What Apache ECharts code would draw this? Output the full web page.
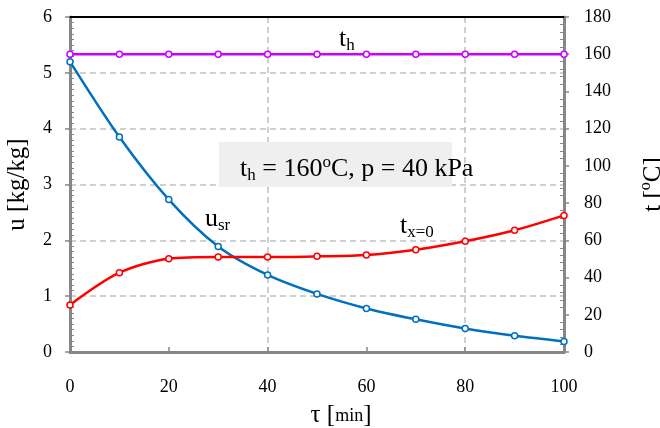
<!DOCTYPE html>
<html>
<head>
<meta charset="utf-8">
<script src="https://cdn.jsdelivr.net/npm/echarts@6/dist/echarts.min.js"></script>
<style>
html,body{margin:0;padding:0;background:#fff;}
#c{width:660px;height:428px;}
</style>
</head>
<body>
<div id="c"></div>
<script>
const tau = [0, 10, 20, 30, 40, 50, 60, 70, 80, 90, 100];
const uSr = [5.20, 3.85, 2.73, 1.89, 1.38, 1.04, 0.78, 0.585, 0.42, 0.29, 0.19];
const tX0 = [25.3, 42.6, 50.1, 51.0, 51.0, 51.4, 52.1, 55.0, 59.5, 65.4, 73.4];
const tH = [160, 160, 160, 160, 160, 160, 160, 160, 160, 160, 160];
const xRange = [0, 100, 20];
const uRange = [0, 6, 1];
const tRange = [0, 180, 20];

const FF = '"Liberation Serif", "Times New Roman", serif';
const GRAY = '#868686';
const GRID = '#c0c0c0';
const richTxt = {
  m: { fontSize: 26, fontFamily: FF, color: '#000', lineHeight: 30 },
  sub: { fontSize: 17, fontFamily: FF, color: '#000', lineHeight: 8, verticalAlign: 'bottom' },
  sup: { fontSize: 17, fontFamily: FF, color: '#000', lineHeight: 14, verticalAlign: 'top' }
};
function label(text, x, y) {
  return {
    type: 'text', x: x, y: y, z: 20,
    style: { text: text, rich: richTxt, fill: '#000', font: '26px ' + FF,
             align: 'left', verticalAlign: 'top', textAlign: 'left', textVerticalAlign: 'top' }
  };
}
const pairs = (ys) => tau.map((x, i) => [x, ys[i]]);

const chart = echarts.init(document.getElementById('c'), null, { renderer: 'canvas' });
const tickLbl = { color: '#000', fontSize: 18, fontFamily: FF };
const dashed = { show: true, lineStyle: { color: GRID, width: 1.5, type: [6, 4] } };

chart.setOption({
  animation: false,
  backgroundColor: '#fff',
  grid: { left: 70, right: 96, top: 17, bottom: 76, containLabel: false, outerBoundsMode: 'none' },
  xAxis: [
    {
      type: 'value', min: xRange[0], max: xRange[1], interval: xRange[2], position: 'bottom',
      axisLine: { show: true, onZero: false, lineStyle: { color: GRAY, width: 3 } },
      axisTick: { show: true, inside: true, length: 5, lineStyle: { color: GRAY, width: 1.5 } },
      axisLabel: Object.assign({ margin: 26 }, tickLbl),
      splitLine: { show: false },
      name: 'τ [{s|min}]', nameLocation: 'middle', nameGap: 42,
      nameTextStyle: { fontSize: 25, fontFamily: FF, color: '#000', lineHeight: 30, padding: [0, 0, 0, 48],
        rich: { s: { fontSize: 18, fontFamily: FF, color: '#000' } } }
    },
    {
      type: 'value', min: xRange[0], max: xRange[1], interval: 40, position: 'top',
      axisLine: { show: true, onZero: false, lineStyle: { color: '#000', width: 2 } },
      axisTick: { show: false }, axisLabel: { show: false },
      splitLine: dashed
    }
  ],
  yAxis: [
    {
      type: 'value', min: uRange[0], max: uRange[1], interval: uRange[2], position: 'left',
      axisLine: { show: true, onZero: false, lineStyle: { color: GRAY, width: 3 } },
      axisTick: { show: true, inside: false, length: 5, lineStyle: { color: GRAY, width: 1.5 } },
      axisLabel: Object.assign({ margin: 18 }, tickLbl),
      splitLine: dashed,
      name: 'u [kg/kg]', nameLocation: 'middle', nameGap: 38, nameRotate: 90,
      nameTextStyle: { fontSize: 25, fontFamily: FF, color: '#000', lineHeight: 30 }
    },
    {
      type: 'value', min: tRange[0], max: tRange[1], interval: tRange[2], position: 'right',
      axisLine: { show: true, onZero: false, lineStyle: { color: GRAY, width: 3 } },
      axisTick: { show: true, inside: false, length: 5, lineStyle: { color: GRAY, width: 1.5 } },
      axisLabel: Object.assign({ margin: 20 }, tickLbl),
      splitLine: { show: false },
      name: 't [{sup|o}C]', nameLocation: 'middle', nameGap: 74, nameRotate: 90,
      nameTextStyle: { fontSize: 25, fontFamily: FF, color: '#000', lineHeight: 30,
        rich: { sup: { fontSize: 16, fontFamily: FF, color: '#000', lineHeight: 12, verticalAlign: 'top' } } }
    },
    {
      type: 'value', min: uRange[0], max: uRange[1], interval: uRange[2], position: 'left',
      axisLine: { show: false, onZero: false }, axisLabel: { show: false }, splitLine: { show: false },
      axisTick: { show: false, inside: true },
      minorTick: { show: true, splitNumber: 10, length: 4, lineStyle: { color: GRAY, width: 1 } }
    },
    {
      type: 'value', min: tRange[0], max: tRange[1], interval: tRange[2], position: 'right',
      axisLine: { show: false, onZero: false }, axisLabel: { show: false }, splitLine: { show: false },
      axisTick: { show: false, inside: true },
      minorTick: { show: true, splitNumber: 5, length: 4, lineStyle: { color: GRAY, width: 1 } }
    }
  ],
  series: [
    {
      name: 'u_sr', type: 'line', xAxisIndex: 0, yAxisIndex: 0, data: pairs(uSr), smooth: 0.3,
      symbol: 'circle', symbolSize: 6, z: 10,
      lineStyle: { color: '#0070C0', width: 2.5 },
      itemStyle: { color: '#fff', borderColor: '#0070C0', borderWidth: 1.5 }
    },
    {
      name: 't_x=0', type: 'line', xAxisIndex: 0, yAxisIndex: 1, data: pairs(tX0), smooth: 0.3,
      symbol: 'circle', symbolSize: 6, z: 10,
      lineStyle: { color: '#FF0000', width: 2.5 },
      itemStyle: { color: '#fff', borderColor: '#FF0000', borderWidth: 1.5 }
    },
    {
      name: 't_h', type: 'line', xAxisIndex: 0, yAxisIndex: 1, data: pairs(tH),
      symbol: 'circle', symbolSize: 6, z: 10,
      lineStyle: { color: '#CC00FF', width: 2.5 },
      itemStyle: { color: '#fff', borderColor: '#CC00FF', borderWidth: 1.5 }
    }
  ],
  graphic: [
    { type: 'rect', z: 15, shape: { x: 219, y: 142, width: 233, height: 45 }, style: { fill: '#efefef' } },
    label('{m|t}{sub|h}{m| = 160}{sup|o}{m|C, p = 40 kPa}', 240, 154),
    label('{m|t}{sub|h}', 339, 24),
    label('{m|u}{sub|sr}', 205, 204),
    label('{m|t}{sub|x=0}', 400, 211)
  ]
});
</script>
</body>
</html>
